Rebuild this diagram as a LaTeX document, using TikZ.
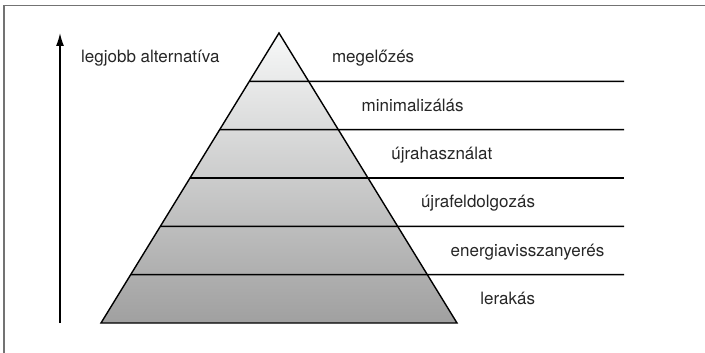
\documentclass[tikz,border=0pt]{standalone}
\usepackage{fontspec}
\setmainfont{TeX Gyre Heros}
\usetikzlibrary{calc}
\usetikzlibrary{arrows.meta}
\definecolor{pyramid top}{RGB}{247,248,248}
\definecolor{pyramid base}{RGB}{160,160,160}
\tikzset{
    % A narrow, solid head for the ranking axis
    >={Latex[length=13pt, width=8pt]},
%
    % Outline of the pyramid and its level separators
    level line/.style={draw, line width=1.4pt, line join=miter},
%
    % Gently shaded body, light at the top
    pyramid fill/.style={top color=pyramid top, bottom color=pyramid base},
%
    % Text set beside each level
    level label/.style={anchor=base west, inner sep=0pt, text=black!85,
        font=\fontsize{17}{20}\selectfont},
%
    % The thin grey frame round the figure
    frame line/.style={draw, color=black!55, line width=1.5pt}}

\begin{document}
\begin{tikzpicture}[x=1pt, y=-1pt]
\useasboundingbox (0,0) rectangle (705,353);

% Frame, only its top and left sides fall inside the page
\path [frame line] (705,5.5) -- (4,5.5) -- (4,353);

% Corners of the pyramid
\coordinate (apex) at (279,33);
\coordinate (base left) at (101,323);
\coordinate (base right) at (457,323);

\shade [pyramid fill] (apex) -- (base left) -- (base right) -- cycle;

% Level separators, running out to the right
\foreach \i in {1,...,5} {
    \pgfmathsetmacro\levely{33+\i*290/6}
    \path [level line] ($(apex)!\i/6!(base left)$) -- (624,\levely);
}
\path [level line] (apex) -- (base left) -- (base right) -- cycle;

% Level names, kept a fixed distance right of the slope
\foreach \name [count=\i] in {megelőzés, minimalizálás, újrahasználat,
        újrafeldolgozás, energiavisszanyerés, lerakás}
    \node [level label] (level \i)
        at ($(apex)!{(\i-0.5)/6}!(base right)+(38,5.5)$) {\name};

% Ranking axis
\coordinate (axis bottom) at (60,323);
\coordinate (axis top) at (60,33);
\draw [->, line width=1.4pt] (axis bottom) -- (axis top);
\node [level label] (best) at (81,62.5) {legjobb alternatíva};

\end{tikzpicture}
\end{document}
